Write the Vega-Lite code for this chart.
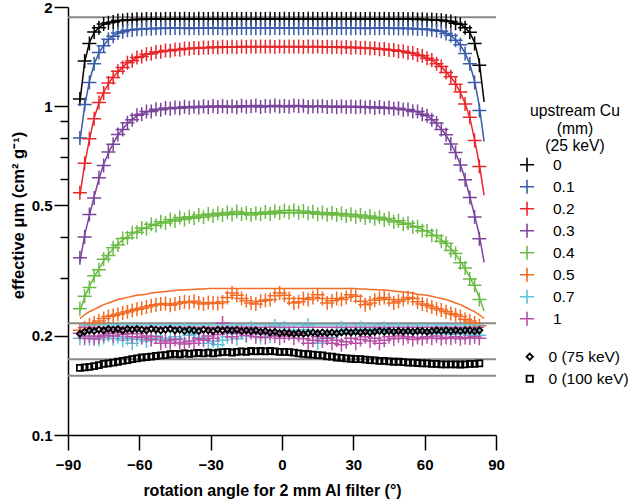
{
"$schema": "https://vega.github.io/schema/vega-lite/v6.json",
"width": 428, "height": 428,
"autosize": {"type": "none"},
"padding": {"left": 68, "top": 7, "right": 144, "bottom": 64},
"config": {
  "font": "Liberation Sans",
  "view": {"stroke": null},
  "axis": {"grid": false, "domainColor": "#000", "domainWidth": 1.5, "tickColor": "#000", "tickWidth": 1.5, "labelColor": "#000", "labelFontWeight": "bold", "labelFontSize": 15, "titleColor": "#000", "titleFontWeight": "bold", "titleFontSize": 16, "labelFlush": false, "labelOverlap": false},
  "legend": {"labelFont": "Liberation Sans", "titleFont": "Liberation Sans"}
},
"datasets": {
"ref": [{"m":1.862},{"m":0.2185},{"m":0.170},{"m":0.1515}],
"mu": [
{"a":-85,"s":"0","m":1.05,"f":1.03},{"a":-83,"s":"0","m":1.37,"f":1.36},{"a":-81,"s":"0","m":1.55,"f":1.56},{"a":-79,"s":"0","m":1.68,"f":1.67},{"a":-77,"s":"0","m":1.73,"f":1.735},{"a":-75,"s":"0","m":1.775,"f":1.77},{"a":-73,"s":"0","m":1.79,"f":1.79},{"a":-71,"s":"0","m":1.8,"f":1.805},{"a":-69,"s":"0","m":1.82,"f":1.815},{"a":-67,"s":"0","m":1.82,"f":1.822},{"a":-65,"s":"0","m":1.83,"f":1.827},{"a":-63,"s":"0","m":1.828,"f":1.83},{"a":-61,"s":"0","m":1.836,"f":1.833},{"a":-59,"s":"0","m":1.833,"f":1.835},{"a":-57,"s":"0","m":1.838,"f":1.836},{"a":-55,"s":"0","m":1.836,"f":1.837},{"a":-53,"s":"0","m":1.84,"f":1.837},{"a":-51,"s":"0","m":1.837,"f":1.838},
{"a":-49,"s":"0","m":1.842,"f":1.84},{"a":-47,"s":"0","m":1.838,"f":1.84},{"a":-45,"s":"0","m":1.841,"f":1.84},{"a":-43,"s":"0","m":1.839,"f":1.84},{"a":-41,"s":"0","m":1.843,"f":1.84},{"a":-39,"s":"0","m":1.84,"f":1.84},{"a":-37,"s":"0","m":1.837,"f":1.84},{"a":-35,"s":"0","m":1.842,"f":1.84},{"a":-33,"s":"0","m":1.84,"f":1.84},{"a":-31,"s":"0","m":1.838,"f":1.84},{"a":-29,"s":"0","m":1.841,"f":1.84},{"a":-27,"s":"0","m":1.843,"f":1.84},{"a":-25,"s":"0","m":1.839,"f":1.84},{"a":-23,"s":"0","m":1.84,"f":1.84},{"a":-21,"s":"0","m":1.842,"f":1.84},{"a":-19,"s":"0","m":1.838,"f":1.84},{"a":-17,"s":"0","m":1.84,"f":1.84},{"a":-15,"s":"0","m":1.841,"f":1.84},{"a":-13,"s":"0","m":1.839,"f":1.84},{"a":-11,"s":"0","m":1.843,"f":1.84},{"a":-9,"s":"0","m":1.84,"f":1.84},{"a":-7,"s":"0","m":1.838,"f":1.84},{"a":-5,"s":"0","m":1.842,"f":1.84},{"a":-3,"s":"0","m":1.84,"f":1.84},{"a":-1,"s":"0","m":1.839,"f":1.84},
{"a":1,"s":"0","m":1.841,"f":1.84},{"a":3,"s":"0","m":1.839,"f":1.84},{"a":5,"s":"0","m":1.842,"f":1.84},{"a":7,"s":"0","m":1.84,"f":1.84},{"a":9,"s":"0","m":1.838,"f":1.84},{"a":11,"s":"0","m":1.841,"f":1.84},{"a":13,"s":"0","m":1.843,"f":1.84},{"a":15,"s":"0","m":1.84,"f":1.84},{"a":17,"s":"0","m":1.839,"f":1.84},{"a":19,"s":"0","m":1.842,"f":1.84},{"a":21,"s":"0","m":1.84,"f":1.84},{"a":23,"s":"0","m":1.838,"f":1.84},{"a":25,"s":"0","m":1.841,"f":1.84},{"a":27,"s":"0","m":1.84,"f":1.84},{"a":29,"s":"0","m":1.842,"f":1.84},{"a":31,"s":"0","m":1.839,"f":1.84},{"a":33,"s":"0","m":1.84,"f":1.84},{"a":35,"s":"0","m":1.838,"f":1.84},{"a":37,"s":"0","m":1.841,"f":1.84},{"a":39,"s":"0","m":1.84,"f":1.84},{"a":41,"s":"0","m":1.839,"f":1.84},{"a":43,"s":"0","m":1.842,"f":1.84},{"a":45,"s":"0","m":1.84,"f":1.84},{"a":47,"s":"0","m":1.838,"f":1.84},{"a":49,"s":"0","m":1.84,"f":1.84},
{"a":51,"s":"0","m":1.84,"f":1.838},{"a":53,"s":"0","m":1.835,"f":1.837},{"a":55,"s":"0","m":1.838,"f":1.837},{"a":57,"s":"0","m":1.834,"f":1.836},{"a":59,"s":"0","m":1.836,"f":1.835},{"a":61,"s":"0","m":1.83,"f":1.833},{"a":63,"s":"0","m":1.832,"f":1.83},{"a":65,"s":"0","m":1.825,"f":1.827},{"a":67,"s":"0","m":1.824,"f":1.822},{"a":69,"s":"0","m":1.812,"f":1.815},{"a":71,"s":"0","m":1.807,"f":1.805},{"a":73,"s":"0","m":1.785,"f":1.79},{"a":75,"s":"0","m":1.772,"f":1.77},{"a":77,"s":"0","m":1.73,"f":1.735},{"a":79,"s":"0","m":1.675,"f":1.67},{"a":81,"s":"0","m":1.55,"f":1.56},{"a":83,"s":"0","m":1.33,"f":1.36},{"a":85,"s":"0","f":1.03},

{"a":-85,"s":"0.1","m":0.8,"f":0.78},{"a":-83,"s":"0.1","m":1.01,"f":1.0},{"a":-81,"s":"0.1","m":1.18,"f":1.19},{"a":-79,"s":"0.1","m":1.345,"f":1.34},{"a":-77,"s":"0.1","m":1.455,"f":1.45},{"a":-75,"s":"0.1","m":1.525,"f":1.53},{"a":-73,"s":"0.1","m":1.595,"f":1.59},{"a":-71,"s":"0.1","m":1.63,"f":1.635},{"a":-69,"s":"0.1","m":1.668,"f":1.665},{"a":-67,"s":"0.1","m":1.683,"f":1.685},{"a":-65,"s":"0.1","m":1.7,"f":1.698},{"a":-63,"s":"0.1","m":1.704,"f":1.706},{"a":-61,"s":"0.1","m":1.713,"f":1.711},{"a":-59,"s":"0.1","m":1.712,"f":1.715},{"a":-57,"s":"0.1","m":1.72,"f":1.718},{"a":-55,"s":"0.1","m":1.718,"f":1.72},{"a":-53,"s":"0.1","m":1.724,"f":1.722},{"a":-51,"s":"0.1","m":1.721,"f":1.723},{"a":-49,"s":"0.1","m":1.726,"f":1.724},
{"a":-47,"s":"0.1","m":1.723,"f":1.725},{"a":-45,"s":"0.1","m":1.727,"f":1.725},{"a":-43,"s":"0.1","m":1.724,"f":1.725},{"a":-41,"s":"0.1","m":1.726,"f":1.725},{"a":-39,"s":"0.1","m":1.722,"f":1.725},{"a":-37,"s":"0.1","m":1.728,"f":1.725},{"a":-35,"s":"0.1","m":1.725,"f":1.725},{"a":-33,"s":"0.1","m":1.723,"f":1.725},{"a":-31,"s":"0.1","m":1.727,"f":1.725},{"a":-29,"s":"0.1","m":1.724,"f":1.725},{"a":-27,"s":"0.1","m":1.726,"f":1.725},{"a":-25,"s":"0.1","m":1.725,"f":1.725},{"a":-23,"s":"0.1","m":1.722,"f":1.725},{"a":-21,"s":"0.1","m":1.727,"f":1.725},{"a":-19,"s":"0.1","m":1.724,"f":1.725},{"a":-17,"s":"0.1","m":1.726,"f":1.725},{"a":-15,"s":"0.1","m":1.723,"f":1.725},{"a":-13,"s":"0.1","m":1.728,"f":1.725},{"a":-11,"s":"0.1","m":1.725,"f":1.725},{"a":-9,"s":"0.1","m":1.724,"f":1.725},{"a":-7,"s":"0.1","m":1.726,"f":1.725},{"a":-5,"s":"0.1","m":1.723,"f":1.725},{"a":-3,"s":"0.1","m":1.727,"f":1.725},{"a":-1,"s":"0.1","m":1.725,"f":1.725},
{"a":1,"s":"0.1","m":1.726,"f":1.725},{"a":3,"s":"0.1","m":1.724,"f":1.725},{"a":5,"s":"0.1","m":1.727,"f":1.725},{"a":7,"s":"0.1","m":1.723,"f":1.725},{"a":9,"s":"0.1","m":1.725,"f":1.725},{"a":11,"s":"0.1","m":1.728,"f":1.725},{"a":13,"s":"0.1","m":1.724,"f":1.725},{"a":15,"s":"0.1","m":1.726,"f":1.725},{"a":17,"s":"0.1","m":1.722,"f":1.725},{"a":19,"s":"0.1","m":1.725,"f":1.725},{"a":21,"s":"0.1","m":1.727,"f":1.725},{"a":23,"s":"0.1","m":1.724,"f":1.725},{"a":25,"s":"0.1","m":1.726,"f":1.725},{"a":27,"s":"0.1","m":1.723,"f":1.725},{"a":29,"s":"0.1","m":1.725,"f":1.725},{"a":31,"s":"0.1","m":1.727,"f":1.725},{"a":33,"s":"0.1","m":1.724,"f":1.725},{"a":35,"s":"0.1","m":1.722,"f":1.725},{"a":37,"s":"0.1","m":1.726,"f":1.725},{"a":39,"s":"0.1","m":1.725,"f":1.725},{"a":41,"s":"0.1","m":1.723,"f":1.725},{"a":43,"s":"0.1","m":1.727,"f":1.725},{"a":45,"s":"0.1","m":1.724,"f":1.725},{"a":47,"s":"0.1","m":1.725,"f":1.725},
{"a":49,"s":"0.1","m":1.722,"f":1.724},{"a":51,"s":"0.1","m":1.724,"f":1.723},{"a":53,"s":"0.1","m":1.72,"f":1.722},{"a":55,"s":"0.1","m":1.721,"f":1.72},{"a":57,"s":"0.1","m":1.716,"f":1.718},{"a":59,"s":"0.1","m":1.717,"f":1.715},{"a":61,"s":"0.1","m":1.709,"f":1.711},{"a":63,"s":"0.1","m":1.707,"f":1.706},{"a":65,"s":"0.1","m":1.695,"f":1.698},{"a":67,"s":"0.1","m":1.687,"f":1.685},{"a":69,"s":"0.1","m":1.66,"f":1.665},{"a":71,"s":"0.1","m":1.638,"f":1.635},{"a":73,"s":"0.1","m":1.585,"f":1.59},{"a":75,"s":"0.1","m":1.535,"f":1.53},{"a":77,"s":"0.1","m":1.445,"f":1.45},{"a":79,"s":"0.1","m":1.345,"f":1.34},{"a":81,"s":"0.1","m":1.18,"f":1.19},{"a":83,"s":"0.1","m":0.97,"f":1.0},{"a":85,"s":"0.1","f":0.78},

{"a":-85,"s":"0.2","m":0.545,"f":0.535},{"a":-83,"s":"0.2","m":0.67,"f":0.665},{"a":-81,"s":"0.2","m":0.795,"f":0.79},{"a":-79,"s":"0.2","m":0.915,"f":0.92},{"a":-77,"s":"0.2","m":1.025,"f":1.02},{"a":-75,"s":"0.2","m":1.095,"f":1.1},{"a":-73,"s":"0.2","m":1.175,"f":1.17},{"a":-71,"s":"0.2","m":1.22,"f":1.225},{"a":-69,"s":"0.2","m":1.275,"f":1.27},{"a":-67,"s":"0.2","m":1.31,"f":1.315},{"a":-65,"s":"0.2","m":1.355,"f":1.35},{"a":-63,"s":"0.2","m":1.374,"f":1.378},{"a":-61,"s":"0.2","m":1.405,"f":1.4},{"a":-59,"s":"0.2","m":1.414,"f":1.418},{"a":-57,"s":"0.2","m":1.437,"f":1.433},{"a":-55,"s":"0.2","m":1.442,"f":1.446},{"a":-53,"s":"0.2","m":1.46,"f":1.456},{"a":-51,"s":"0.2","m":1.461,"f":1.464},{"a":-49,"s":"0.2","m":1.475,"f":1.471},{"a":-47,"s":"0.2","m":1.473,"f":1.477},{"a":-45,"s":"0.2","m":1.486,"f":1.482},{"a":-43,"s":"0.2","m":1.484,"f":1.487},{"a":-41,"s":"0.2","m":1.495,"f":1.491},{"a":-39,"s":"0.2","m":1.492,"f":1.495},{"a":-37,"s":"0.2","m":1.502,"f":1.498},{"a":-35,"s":"0.2","m":1.498,"f":1.501},{"a":-33,"s":"0.2","m":1.507,"f":1.504},{"a":-31,"s":"0.2","m":1.503,"f":1.506},{"a":-29,"s":"0.2","m":1.511,"f":1.508},{"a":-27,"s":"0.2","m":1.506,"f":1.509},{"a":-25,"s":"0.2","m":1.513,"f":1.51},{"a":-23,"s":"0.2","m":1.508,"f":1.511},{"a":-21,"s":"0.2","m":1.515,"f":1.512},{"a":-19,"s":"0.2","m":1.51,"f":1.513},{"a":-17,"s":"0.2","m":1.516,"f":1.513},{"a":-15,"s":"0.2","m":1.512,"f":1.514},{"a":-13,"s":"0.2","m":1.517,"f":1.515},{"a":-11,"s":"0.2","m":1.513,"f":1.515},{"a":-9,"s":"0.2","m":1.518,"f":1.515},{"a":-7,"s":"0.2","m":1.514,"f":1.515},{"a":-5,"s":"0.2","m":1.517,"f":1.515},{"a":-3,"s":"0.2","m":1.512,"f":1.515},{"a":-1,"s":"0.2","m":1.516,"f":1.515},
{"a":1,"s":"0.2","m":1.513,"f":1.515},{"a":3,"s":"0.2","m":1.517,"f":1.515},{"a":5,"s":"0.2","m":1.514,"f":1.515},{"a":7,"s":"0.2","m":1.518,"f":1.515},{"a":9,"s":"0.2","m":1.512,"f":1.515},{"a":11,"s":"0.2","m":1.516,"f":1.515},{"a":13,"s":"0.2","m":1.513,"f":1.515},{"a":15,"s":"0.2","m":1.517,"f":1.514},{"a":17,"s":"0.2","m":1.511,"f":1.513},{"a":19,"s":"0.2","m":1.515,"f":1.513},{"a":21,"s":"0.2","m":1.509,"f":1.512},{"a":23,"s":"0.2","m":1.514,"f":1.511},{"a":25,"s":"0.2","m":1.507,"f":1.51},{"a":27,"s":"0.2","m":1.512,"f":1.509},{"a":29,"s":"0.2","m":1.505,"f":1.508},{"a":31,"s":"0.2","m":1.509,"f":1.506},{"a":33,"s":"0.2","m":1.501,"f":1.504},{"a":35,"s":"0.2","m":1.504,"f":1.501},{"a":37,"s":"0.2","m":1.495,"f":1.498},{"a":39,"s":"0.2","m":1.498,"f":1.495},{"a":41,"s":"0.2","m":1.488,"f":1.491},{"a":43,"s":"0.2","m":1.49,"f":1.487},{"a":45,"s":"0.2","m":1.479,"f":1.482},{"a":47,"s":"0.2","m":1.48,"f":1.477},{"a":49,"s":"0.2","m":1.468,"f":1.471},{"a":51,"s":"0.2","m":1.467,"f":1.464},{"a":53,"s":"0.2","m":1.452,"f":1.456},{"a":55,"s":"0.2","m":1.449,"f":1.446},{"a":57,"s":"0.2","m":1.429,"f":1.433},{"a":59,"s":"0.2","m":1.421,"f":1.418},{"a":61,"s":"0.2","m":1.396,"f":1.4},{"a":63,"s":"0.2","m":1.381,"f":1.378},{"a":65,"s":"0.2","m":1.345,"f":1.35},{"a":67,"s":"0.2","m":1.318,"f":1.315},{"a":69,"s":"0.2","m":1.265,"f":1.27},{"a":71,"s":"0.2","m":1.228,"f":1.225},{"a":73,"s":"0.2","m":1.165,"f":1.17},{"a":75,"s":"0.2","m":1.104,"f":1.1},{"a":77,"s":"0.2","m":1.015,"f":1.02},{"a":79,"s":"0.2","m":0.925,"f":0.92},{"a":81,"s":"0.2","m":0.785,"f":0.79},{"a":83,"s":"0.2","m":0.655,"f":0.665},{"a":85,"s":"0.2","f":0.535},

{"a":-85,"s":"0.3","m":0.346,"f":0.335},{"a":-83,"s":"0.3","m":0.4,"f":0.405},{"a":-81,"s":"0.3","m":0.468,"f":0.465},{"a":-79,"s":"0.3","m":0.525,"f":0.53},{"a":-77,"s":"0.3","m":0.605,"f":0.6},{"a":-75,"s":"0.3","m":0.66,"f":0.665},{"a":-73,"s":"0.3","m":0.725,"f":0.72},{"a":-71,"s":"0.3","m":0.765,"f":0.77},{"a":-69,"s":"0.3","m":0.82,"f":0.815},{"a":-67,"s":"0.3","m":0.848,"f":0.852},{"a":-65,"s":"0.3","m":0.89,"f":0.885},{"a":-63,"s":"0.3","m":0.908,"f":0.912},{"a":-61,"s":"0.3","m":0.937,"f":0.932},{"a":-59,"s":"0.3","m":0.944,"f":0.948},{"a":-57,"s":"0.3","m":0.963,"f":0.959},{"a":-55,"s":"0.3","m":0.962,"f":0.967},{"a":-53,"s":"0.3","m":0.978,"f":0.973},{"a":-51,"s":"0.3","m":0.974,"f":0.978},{"a":-49,"s":"0.3","m":0.986,"f":0.982},{"a":-47,"s":"0.3","m":0.981,"f":0.985},{"a":-45,"s":"0.3","m":0.99,"f":0.987},{"a":-43,"s":"0.3","m":0.985,"f":0.989},{"a":-41,"s":"0.3","m":0.995,"f":0.991},{"a":-39,"s":"0.3","m":0.988,"f":0.992},{"a":-37,"s":"0.3","m":0.997,"f":0.993},{"a":-35,"s":"0.3","m":0.99,"f":0.994},{"a":-33,"s":"0.3","m":0.999,"f":0.995},{"a":-31,"s":"0.3","m":0.992,"f":0.996},{"a":-29,"s":"0.3","m":1.0,"f":0.996},{"a":-27,"s":"0.3","m":0.993,"f":0.996},{"a":-25,"s":"0.3","m":1.001,"f":0.996},{"a":-23,"s":"0.3","m":0.994,"f":0.996},{"a":-21,"s":"0.3","m":0.999,"f":0.996},{"a":-19,"s":"0.3","m":0.992,"f":0.996},{"a":-17,"s":"0.3","m":1.002,"f":0.996},{"a":-15,"s":"0.3","m":0.995,"f":0.996},{"a":-13,"s":"0.3","m":0.998,"f":0.996},{"a":-11,"s":"0.3","m":1.003,"f":0.996},{"a":-9,"s":"0.3","m":0.993,"f":0.996},{"a":-7,"s":"0.3","m":1.0,"f":0.996},{"a":-5,"s":"0.3","m":0.996,"f":0.996},{"a":-3,"s":"0.3","m":1.004,"f":0.996},{"a":-1,"s":"0.3","m":0.997,"f":0.996},
{"a":1,"s":"0.3","m":1.001,"f":0.996},{"a":3,"s":"0.3","m":0.995,"f":0.996},{"a":5,"s":"0.3","m":1.003,"f":0.996},{"a":7,"s":"0.3","m":0.998,"f":0.996},{"a":9,"s":"0.3","m":1.002,"f":0.996},{"a":11,"s":"0.3","m":0.993,"f":0.996},{"a":13,"s":"0.3","m":0.999,"f":0.996},{"a":15,"s":"0.3","m":0.996,"f":0.996},{"a":17,"s":"0.3","m":1.001,"f":0.996},{"a":19,"s":"0.3","m":0.994,"f":0.996},{"a":21,"s":"0.3","m":0.998,"f":0.996},{"a":23,"s":"0.3","m":0.992,"f":0.996},{"a":25,"s":"0.3","m":0.999,"f":0.996},{"a":27,"s":"0.3","m":0.993,"f":0.996},{"a":29,"s":"0.3","m":0.997,"f":0.996},{"a":31,"s":"0.3","m":0.991,"f":0.996},{"a":33,"s":"0.3","m":0.996,"f":0.995},{"a":35,"s":"0.3","m":0.99,"f":0.994},{"a":37,"s":"0.3","m":0.995,"f":0.993},{"a":39,"s":"0.3","m":0.987,"f":0.992},{"a":41,"s":"0.3","m":0.993,"f":0.991},{"a":43,"s":"0.3","m":0.985,"f":0.989},{"a":45,"s":"0.3","m":0.99,"f":0.987},{"a":47,"s":"0.3","m":0.981,"f":0.985},{"a":49,"s":"0.3","m":0.985,"f":0.982},{"a":51,"s":"0.3","m":0.975,"f":0.978},{"a":53,"s":"0.3","m":0.976,"f":0.973},{"a":55,"s":"0.3","m":0.963,"f":0.967},{"a":57,"s":"0.3","m":0.962,"f":0.959},{"a":59,"s":"0.3","m":0.944,"f":0.948},{"a":61,"s":"0.3","m":0.935,"f":0.932},{"a":63,"s":"0.3","m":0.908,"f":0.912},{"a":65,"s":"0.3","m":0.888,"f":0.885},{"a":67,"s":"0.3","m":0.848,"f":0.852},{"a":69,"s":"0.3","m":0.818,"f":0.815},{"a":71,"s":"0.3","m":0.766,"f":0.77},{"a":73,"s":"0.3","m":0.722,"f":0.72},{"a":75,"s":"0.3","m":0.662,"f":0.665},{"a":77,"s":"0.3","m":0.597,"f":0.6},{"a":79,"s":"0.3","m":0.527,"f":0.53},{"a":81,"s":"0.3","m":0.46,"f":0.465},{"a":83,"s":"0.3","m":0.395,"f":0.405},{"a":85,"s":"0.3","f":0.335},

{"a":-85,"s":"0.4","m":0.242,"f":0.238},{"a":-83,"s":"0.4","m":0.264,"f":0.262},{"a":-81,"s":"0.4","m":0.281,"f":0.283},{"a":-79,"s":"0.4","m":0.305,"f":0.302},{"a":-77,"s":"0.4","m":0.318,"f":0.32},{"a":-75,"s":"0.4","m":0.342,"f":0.338},{"a":-73,"s":"0.4","m":0.351,"f":0.354},{"a":-71,"s":"0.4","m":0.371,"f":0.368},{"a":-69,"s":"0.4","m":0.378,"f":0.381},{"a":-67,"s":"0.4","m":0.396,"f":0.392},{"a":-65,"s":"0.4","m":0.398,"f":0.401},{"a":-63,"s":"0.4","m":0.412,"f":0.409},{"a":-61,"s":"0.4","m":0.413,"f":0.416},{"a":-59,"s":"0.4","m":0.426,"f":0.422},{"a":-57,"s":"0.4","m":0.424,"f":0.428},{"a":-55,"s":"0.4","m":0.437,"f":0.433},{"a":-53,"s":"0.4","m":0.433,"f":0.437},{"a":-51,"s":"0.4","m":0.445,"f":0.441},{"a":-49,"s":"0.4","m":0.441,"f":0.445},{"a":-47,"s":"0.4","m":0.452,"f":0.448},{"a":-45,"s":"0.4","m":0.447,"f":0.451},{"a":-43,"s":"0.4","m":0.458,"f":0.454},{"a":-41,"s":"0.4","m":0.452,"f":0.456},{"a":-39,"s":"0.4","m":0.461,"f":0.458},{"a":-37,"s":"0.4","m":0.456,"f":0.46},{"a":-35,"s":"0.4","m":0.466,"f":0.462},{"a":-33,"s":"0.4","m":0.459,"f":0.464},{"a":-31,"s":"0.4","m":0.47,"f":0.466},{"a":-29,"s":"0.4","m":0.463,"f":0.467},{"a":-27,"s":"0.4","m":0.472,"f":0.468},{"a":-25,"s":"0.4","m":0.466,"f":0.469},{"a":-23,"s":"0.4","m":0.475,"f":0.47},{"a":-21,"s":"0.4","m":0.468,"f":0.471},{"a":-19,"s":"0.4","m":0.478,"f":0.472},{"a":-17,"s":"0.4","m":0.469,"f":0.473},{"a":-15,"s":"0.4","m":0.473,"f":0.474},{"a":-13,"s":"0.4","m":0.466,"f":0.474},{"a":-11,"s":"0.4","m":0.472,"f":0.474},{"a":-9,"s":"0.4","m":0.469,"f":0.474},{"a":-7,"s":"0.4","m":0.476,"f":0.474},{"a":-5,"s":"0.4","m":0.47,"f":0.474},{"a":-3,"s":"0.4","m":0.479,"f":0.474},{"a":-1,"s":"0.4","m":0.473,"f":0.474},
{"a":1,"s":"0.4","m":0.481,"f":0.474},{"a":3,"s":"0.4","m":0.475,"f":0.474},{"a":5,"s":"0.4","m":0.482,"f":0.474},{"a":7,"s":"0.4","m":0.474,"f":0.474},{"a":9,"s":"0.4","m":0.48,"f":0.474},{"a":11,"s":"0.4","m":0.472,"f":0.474},{"a":13,"s":"0.4","m":0.477,"f":0.474},{"a":15,"s":"0.4","m":0.469,"f":0.474},{"a":17,"s":"0.4","m":0.475,"f":0.473},{"a":19,"s":"0.4","m":0.467,"f":0.472},{"a":21,"s":"0.4","m":0.474,"f":0.471},{"a":23,"s":"0.4","m":0.466,"f":0.47},{"a":25,"s":"0.4","m":0.471,"f":0.469},{"a":27,"s":"0.4","m":0.463,"f":0.468},{"a":29,"s":"0.4","m":0.469,"f":0.467},{"a":31,"s":"0.4","m":0.461,"f":0.466},{"a":33,"s":"0.4","m":0.466,"f":0.464},{"a":35,"s":"0.4","m":0.457,"f":0.462},{"a":37,"s":"0.4","m":0.463,"f":0.46},{"a":39,"s":"0.4","m":0.454,"f":0.458},{"a":41,"s":"0.4","m":0.459,"f":0.456},{"a":43,"s":"0.4","m":0.45,"f":0.454},{"a":45,"s":"0.4","m":0.455,"f":0.451},{"a":47,"s":"0.4","m":0.444,"f":0.448},{"a":49,"s":"0.4","m":0.448,"f":0.445},{"a":51,"s":"0.4","m":0.437,"f":0.441},{"a":53,"s":"0.4","m":0.44,"f":0.437},{"a":55,"s":"0.4","m":0.429,"f":0.433},{"a":57,"s":"0.4","m":0.43,"f":0.428},{"a":59,"s":"0.4","m":0.418,"f":0.422},{"a":61,"s":"0.4","m":0.418,"f":0.416},{"a":63,"s":"0.4","m":0.405,"f":0.409},{"a":65,"s":"0.4","m":0.403,"f":0.401},{"a":67,"s":"0.4","m":0.388,"f":0.392},{"a":69,"s":"0.4","m":0.383,"f":0.381},{"a":71,"s":"0.4","m":0.364,"f":0.368},{"a":73,"s":"0.4","m":0.356,"f":0.354},{"a":75,"s":"0.4","m":0.334,"f":0.338},{"a":77,"s":"0.4","m":0.322,"f":0.32},{"a":79,"s":"0.4","m":0.298,"f":0.302},{"a":81,"s":"0.4","m":0.285,"f":0.283},{"a":83,"s":"0.4","m":0.258,"f":0.262},{"a":85,"s":"0.4","f":0.238},

{"a":-85,"s":"0.5","m":0.208,"f":0.226},{"a":-83,"s":"0.5","m":0.212,"f":0.232},{"a":-81,"s":"0.5","m":0.216,"f":0.237},{"a":-79,"s":"0.5","m":0.219,"f":0.241},{"a":-77,"s":"0.5","m":0.222,"f":0.245},{"a":-75,"s":"0.5","m":0.226,"f":0.249},{"a":-73,"s":"0.5","m":0.229,"f":0.252},{"a":-71,"s":"0.5","m":0.231,"f":0.255},{"a":-69,"s":"0.5","m":0.233,"f":0.258},{"a":-67,"s":"0.5","m":0.235,"f":0.26},{"a":-65,"s":"0.5","m":0.237,"f":0.262},{"a":-63,"s":"0.5","m":0.239,"f":0.264},{"a":-61,"s":"0.5","m":0.241,"f":0.266},{"a":-59,"s":"0.5","m":0.243,"f":0.267},{"a":-57,"s":"0.5","m":0.245,"f":0.268},{"a":-55,"s":"0.5","m":0.247,"f":0.27},{"a":-53,"s":"0.5","m":0.249,"f":0.271},{"a":-51,"s":"0.5","m":0.25,"f":0.272},{"a":-49,"s":"0.5","m":0.251,"f":0.273},{"a":-47,"s":"0.5","m":0.248,"f":0.274},{"a":-45,"s":"0.5","m":0.25,"f":0.275},{"a":-43,"s":"0.5","m":0.252,"f":0.276},{"a":-41,"s":"0.5","m":0.254,"f":0.276},{"a":-39,"s":"0.5","m":0.253,"f":0.277},{"a":-37,"s":"0.5","m":0.255,"f":0.277},{"a":-35,"s":"0.5","m":0.252,"f":0.278},{"a":-33,"s":"0.5","m":0.25,"f":0.278},{"a":-31,"s":"0.5","m":0.253,"f":0.279},{"a":-29,"s":"0.5","m":0.252,"f":0.279},{"a":-27,"s":"0.5","m":0.251,"f":0.279},{"a":-25,"s":"0.5","m":0.254,"f":0.279},{"a":-23,"s":"0.5","m":0.262,"f":0.279},{"a":-21,"s":"0.5","m":0.27,"f":0.279},{"a":-19,"s":"0.5","m":0.266,"f":0.279},{"a":-17,"s":"0.5","m":0.26,"f":0.279},{"a":-15,"s":"0.5","m":0.256,"f":0.279},{"a":-13,"s":"0.5","m":0.252,"f":0.279},{"a":-11,"s":"0.5","m":0.25,"f":0.279},{"a":-9,"s":"0.5","m":0.255,"f":0.279},{"a":-7,"s":"0.5","m":0.257,"f":0.279},{"a":-5,"s":"0.5","m":0.258,"f":0.279},{"a":-3,"s":"0.5","m":0.265,"f":0.279},{"a":-1,"s":"0.5","m":0.27,"f":0.279},
{"a":1,"s":"0.5","m":0.266,"f":0.279},{"a":3,"s":"0.5","m":0.26,"f":0.279},{"a":5,"s":"0.5","m":0.252,"f":0.279},{"a":7,"s":"0.5","m":0.254,"f":0.279},{"a":9,"s":"0.5","m":0.26,"f":0.279},{"a":11,"s":"0.5","m":0.258,"f":0.279},{"a":13,"s":"0.5","m":0.262,"f":0.279},{"a":15,"s":"0.5","m":0.267,"f":0.279},{"a":17,"s":"0.5","m":0.26,"f":0.279},{"a":19,"s":"0.5","m":0.252,"f":0.279},{"a":21,"s":"0.5","m":0.256,"f":0.279},{"a":23,"s":"0.5","m":0.26,"f":0.279},{"a":25,"s":"0.5","m":0.258,"f":0.279},{"a":27,"s":"0.5","m":0.262,"f":0.279},{"a":29,"s":"0.5","m":0.267,"f":0.279},{"a":31,"s":"0.5","m":0.264,"f":0.279},{"a":33,"s":"0.5","m":0.255,"f":0.278},{"a":35,"s":"0.5","m":0.249,"f":0.278},{"a":37,"s":"0.5","m":0.252,"f":0.277},{"a":39,"s":"0.5","m":0.257,"f":0.277},{"a":41,"s":"0.5","m":0.26,"f":0.276},{"a":43,"s":"0.5","m":0.262,"f":0.276},{"a":45,"s":"0.5","m":0.258,"f":0.275},{"a":47,"s":"0.5","m":0.252,"f":0.274},{"a":49,"s":"0.5","m":0.255,"f":0.273},{"a":51,"s":"0.5","m":0.258,"f":0.272},{"a":53,"s":"0.5","m":0.262,"f":0.271},{"a":55,"s":"0.5","m":0.26,"f":0.27},{"a":57,"s":"0.5","m":0.254,"f":0.268},{"a":59,"s":"0.5","m":0.25,"f":0.267},{"a":61,"s":"0.5","m":0.248,"f":0.266},{"a":63,"s":"0.5","m":0.245,"f":0.264},{"a":65,"s":"0.5","m":0.242,"f":0.262},{"a":67,"s":"0.5","m":0.24,"f":0.26},{"a":69,"s":"0.5","m":0.237,"f":0.258},{"a":71,"s":"0.5","m":0.234,"f":0.255},{"a":73,"s":"0.5","m":0.232,"f":0.252},{"a":75,"s":"0.5","m":0.229,"f":0.249},{"a":77,"s":"0.5","m":0.225,"f":0.245},{"a":79,"s":"0.5","m":0.222,"f":0.241},{"a":81,"s":"0.5","m":0.219,"f":0.237},{"a":83,"s":"0.5","m":0.215,"f":0.232},{"a":85,"s":"0.5","f":0.226},

{"a":-85,"s":"0.7","m":0.197,"f":0.216},{"a":-83,"s":"0.7","m":0.2,"f":0.216},{"a":-81,"s":"0.7","m":0.196,"f":0.216},{"a":-79,"s":"0.7","m":0.199,"f":0.216},{"a":-77,"s":"0.7","m":0.195,"f":0.216},{"a":-75,"s":"0.7","m":0.198,"f":0.216},{"a":-73,"s":"0.7","m":0.201,"f":0.216},{"a":-71,"s":"0.7","m":0.196,"f":0.216},{"a":-69,"s":"0.7","m":0.199,"f":0.216},{"a":-67,"s":"0.7","m":0.194,"f":0.216},{"a":-65,"s":"0.7","m":0.197,"f":0.216},{"a":-63,"s":"0.7","m":0.19,"f":0.216},{"a":-61,"s":"0.7","m":0.195,"f":0.216},{"a":-59,"s":"0.7","m":0.198,"f":0.216},{"a":-57,"s":"0.7","m":0.193,"f":0.216},{"a":-55,"s":"0.7","m":0.196,"f":0.216},{"a":-53,"s":"0.7","m":0.2,"f":0.216},{"a":-51,"s":"0.7","m":0.195,"f":0.216},{"a":-49,"s":"0.7","m":0.197,"f":0.216},{"a":-47,"s":"0.7","m":0.194,"f":0.216},{"a":-45,"s":"0.7","m":0.199,"f":0.216},{"a":-43,"s":"0.7","m":0.196,"f":0.216},{"a":-41,"s":"0.7","m":0.209,"f":0.216},{"a":-39,"s":"0.7","m":0.201,"f":0.216},{"a":-37,"s":"0.7","m":0.203,"f":0.216},{"a":-35,"s":"0.7","m":0.198,"f":0.216},{"a":-33,"s":"0.7","m":0.195,"f":0.216},{"a":-31,"s":"0.7","m":0.19,"f":0.216},{"a":-29,"s":"0.7","m":0.193,"f":0.216},{"a":-27,"s":"0.7","m":0.188,"f":0.216},{"a":-25,"s":"0.7","m":0.194,"f":0.216},{"a":-23,"s":"0.7","m":0.199,"f":0.216},{"a":-21,"s":"0.7","m":0.203,"f":0.216},{"a":-19,"s":"0.7","m":0.196,"f":0.216},{"a":-17,"s":"0.7","m":0.205,"f":0.216},{"a":-15,"s":"0.7","m":0.2,"f":0.216},{"a":-13,"s":"0.7","m":0.212,"f":0.216},{"a":-11,"s":"0.7","m":0.203,"f":0.216},{"a":-9,"s":"0.7","m":0.198,"f":0.216},{"a":-7,"s":"0.7","m":0.206,"f":0.216},{"a":-5,"s":"0.7","m":0.2,"f":0.216},{"a":-3,"s":"0.7","m":0.215,"f":0.216},{"a":-1,"s":"0.7","m":0.207,"f":0.216},
{"a":1,"s":"0.7","m":0.212,"f":0.216},{"a":3,"s":"0.7","m":0.203,"f":0.216},{"a":5,"s":"0.7","m":0.208,"f":0.216},{"a":7,"s":"0.7","m":0.202,"f":0.216},{"a":9,"s":"0.7","m":0.209,"f":0.216},{"a":11,"s":"0.7","m":0.216,"f":0.216},{"a":13,"s":"0.7","m":0.204,"f":0.216},{"a":15,"s":"0.7","m":0.19,"f":0.216},{"a":17,"s":"0.7","m":0.196,"f":0.216},{"a":19,"s":"0.7","m":0.203,"f":0.216},{"a":21,"s":"0.7","m":0.198,"f":0.216},{"a":23,"s":"0.7","m":0.206,"f":0.216},{"a":25,"s":"0.7","m":0.212,"f":0.216},{"a":27,"s":"0.7","m":0.208,"f":0.216},{"a":29,"s":"0.7","m":0.203,"f":0.216},{"a":31,"s":"0.7","m":0.207,"f":0.216},{"a":33,"s":"0.7","m":0.212,"f":0.216},{"a":35,"s":"0.7","m":0.209,"f":0.216},{"a":37,"s":"0.7","m":0.204,"f":0.216},{"a":39,"s":"0.7","m":0.21,"f":0.216},{"a":41,"s":"0.7","m":0.206,"f":0.216},{"a":43,"s":"0.7","m":0.211,"f":0.216},{"a":45,"s":"0.7","m":0.207,"f":0.216},{"a":47,"s":"0.7","m":0.205,"f":0.216},{"a":49,"s":"0.7","m":0.209,"f":0.216},{"a":51,"s":"0.7","m":0.204,"f":0.216},{"a":53,"s":"0.7","m":0.207,"f":0.216},{"a":55,"s":"0.7","m":0.205,"f":0.216},{"a":57,"s":"0.7","m":0.208,"f":0.216},{"a":59,"s":"0.7","m":0.204,"f":0.216},{"a":61,"s":"0.7","m":0.206,"f":0.216},{"a":63,"s":"0.7","m":0.203,"f":0.216},{"a":65,"s":"0.7","m":0.207,"f":0.216},{"a":67,"s":"0.7","m":0.204,"f":0.216},{"a":69,"s":"0.7","m":0.205,"f":0.216},{"a":71,"s":"0.7","m":0.202,"f":0.216},{"a":73,"s":"0.7","m":0.205,"f":0.216},{"a":75,"s":"0.7","m":0.203,"f":0.216},{"a":77,"s":"0.7","m":0.204,"f":0.216},{"a":79,"s":"0.7","m":0.201,"f":0.216},{"a":81,"s":"0.7","m":0.203,"f":0.216},{"a":83,"s":"0.7","m":0.201,"f":0.216},{"a":85,"s":"0.7","f":0.216},

{"a":-85,"s":"1","m":0.204,"f":0.2125},{"a":-83,"s":"1","m":0.197,"f":0.2125},{"a":-81,"s":"1","m":0.2,"f":0.2125},{"a":-79,"s":"1","m":0.196,"f":0.2125},{"a":-77,"s":"1","m":0.199,"f":0.2125},{"a":-75,"s":"1","m":0.201,"f":0.2125},{"a":-73,"s":"1","m":0.204,"f":0.2125},{"a":-71,"s":"1","m":0.2,"f":0.2125},{"a":-69,"s":"1","m":0.205,"f":0.2125},{"a":-67,"s":"1","m":0.202,"f":0.2125},{"a":-65,"s":"1","m":0.204,"f":0.2125},{"a":-63,"s":"1","m":0.199,"f":0.2125},{"a":-61,"s":"1","m":0.203,"f":0.2125},{"a":-59,"s":"1","m":0.198,"f":0.2125},{"a":-57,"s":"1","m":0.2,"f":0.2125},{"a":-55,"s":"1","m":0.195,"f":0.2125},{"a":-53,"s":"1","m":0.199,"f":0.2125},{"a":-51,"s":"1","m":0.19,"f":0.2125},{"a":-49,"s":"1","m":0.193,"f":0.2125},{"a":-47,"s":"1","m":0.19,"f":0.2125},{"a":-45,"s":"1","m":0.195,"f":0.2125},{"a":-43,"s":"1","m":0.191,"f":0.2125},{"a":-41,"s":"1","m":0.189,"f":0.2125},{"a":-39,"s":"1","m":0.193,"f":0.2125},{"a":-37,"s":"1","m":0.19,"f":0.2125},{"a":-35,"s":"1","m":0.196,"f":0.2125},{"a":-33,"s":"1","m":0.194,"f":0.2125},{"a":-31,"s":"1","m":0.2,"f":0.2125},{"a":-29,"s":"1","m":0.197,"f":0.2125},{"a":-27,"s":"1","m":0.202,"f":0.2125},{"a":-25,"s":"1","m":0.219,"f":0.2125},{"a":-23,"s":"1","m":0.205,"f":0.2125},{"a":-21,"s":"1","m":0.199,"f":0.2125},{"a":-19,"s":"1","m":0.204,"f":0.2125},{"a":-17,"s":"1","m":0.207,"f":0.2125},{"a":-15,"s":"1","m":0.201,"f":0.2125},{"a":-13,"s":"1","m":0.205,"f":0.2125},{"a":-11,"s":"1","m":0.199,"f":0.2125},{"a":-9,"s":"1","m":0.203,"f":0.2125},{"a":-7,"s":"1","m":0.198,"f":0.2125},{"a":-5,"s":"1","m":0.204,"f":0.2125},{"a":-3,"s":"1","m":0.2,"f":0.2125},{"a":-1,"s":"1","m":0.197,"f":0.2125},
{"a":1,"s":"1","m":0.2,"f":0.2125},{"a":3,"s":"1","m":0.204,"f":0.2125},{"a":5,"s":"1","m":0.197,"f":0.2125},{"a":7,"s":"1","m":0.201,"f":0.2125},{"a":9,"s":"1","m":0.196,"f":0.2125},{"a":11,"s":"1","m":0.19,"f":0.2125},{"a":13,"s":"1","m":0.194,"f":0.2125},{"a":15,"s":"1","m":0.199,"f":0.2125},{"a":17,"s":"1","m":0.193,"f":0.2125},{"a":19,"s":"1","m":0.197,"f":0.2125},{"a":21,"s":"1","m":0.19,"f":0.2125},{"a":23,"s":"1","m":0.194,"f":0.2125},{"a":25,"s":"1","m":0.188,"f":0.2125},{"a":27,"s":"1","m":0.192,"f":0.2125},{"a":29,"s":"1","m":0.197,"f":0.2125},{"a":31,"s":"1","m":0.19,"f":0.2125},{"a":33,"s":"1","m":0.195,"f":0.2125},{"a":35,"s":"1","m":0.199,"f":0.2125},{"a":37,"s":"1","m":0.193,"f":0.2125},{"a":39,"s":"1","m":0.197,"f":0.2125},{"a":41,"s":"1","m":0.19,"f":0.2125},{"a":43,"s":"1","m":0.194,"f":0.2125},{"a":45,"s":"1","m":0.199,"f":0.2125},{"a":47,"s":"1","m":0.196,"f":0.2125},{"a":49,"s":"1","m":0.2,"f":0.2125},{"a":51,"s":"1","m":0.197,"f":0.2125},{"a":53,"s":"1","m":0.199,"f":0.2125},{"a":55,"s":"1","m":0.195,"f":0.2125},{"a":57,"s":"1","m":0.198,"f":0.2125},{"a":59,"s":"1","m":0.196,"f":0.2125},{"a":61,"s":"1","m":0.199,"f":0.2125},{"a":63,"s":"1","m":0.197,"f":0.2125},{"a":65,"s":"1","m":0.2,"f":0.2125},{"a":67,"s":"1","m":0.196,"f":0.2125},{"a":69,"s":"1","m":0.198,"f":0.2125},{"a":71,"s":"1","m":0.197,"f":0.2125},{"a":73,"s":"1","m":0.199,"f":0.2125},{"a":75,"s":"1","m":0.196,"f":0.2125},{"a":77,"s":"1","m":0.198,"f":0.2125},{"a":79,"s":"1","m":0.197,"f":0.2125},{"a":81,"s":"1","m":0.199,"f":0.2125},{"a":83,"s":"1","m":0.197,"f":0.2125},{"a":85,"s":"1","f":0.2125},

{"a":-85,"s":"0 (75 keV)","m":0.203},{"a":-83,"s":"0 (75 keV)","m":0.206},{"a":-81,"s":"0 (75 keV)","m":0.208},{"a":-79,"s":"0 (75 keV)","m":0.207},{"a":-77,"s":"0 (75 keV)","m":0.209},{"a":-75,"s":"0 (75 keV)","m":0.208},{"a":-73,"s":"0 (75 keV)","m":0.21},{"a":-71,"s":"0 (75 keV)","m":0.209},{"a":-69,"s":"0 (75 keV)","m":0.21},{"a":-67,"s":"0 (75 keV)","m":0.208},{"a":-65,"s":"0 (75 keV)","m":0.21},{"a":-63,"s":"0 (75 keV)","m":0.209},{"a":-61,"s":"0 (75 keV)","m":0.21},{"a":-59,"s":"0 (75 keV)","m":0.209},{"a":-57,"s":"0 (75 keV)","m":0.208},{"a":-55,"s":"0 (75 keV)","m":0.21},{"a":-53,"s":"0 (75 keV)","m":0.209},{"a":-51,"s":"0 (75 keV)","m":0.208},{"a":-49,"s":"0 (75 keV)","m":0.209},{"a":-47,"s":"0 (75 keV)","m":0.21},{"a":-45,"s":"0 (75 keV)","m":0.208},{"a":-43,"s":"0 (75 keV)","m":0.209},{"a":-41,"s":"0 (75 keV)","m":0.207},{"a":-39,"s":"0 (75 keV)","m":0.209},{"a":-37,"s":"0 (75 keV)","m":0.208},{"a":-35,"s":"0 (75 keV)","m":0.207},{"a":-33,"s":"0 (75 keV)","m":0.209},{"a":-31,"s":"0 (75 keV)","m":0.208},{"a":-29,"s":"0 (75 keV)","m":0.207},{"a":-27,"s":"0 (75 keV)","m":0.209},{"a":-25,"s":"0 (75 keV)","m":0.208},{"a":-23,"s":"0 (75 keV)","m":0.209},{"a":-21,"s":"0 (75 keV)","m":0.208},{"a":-19,"s":"0 (75 keV)","m":0.209},{"a":-17,"s":"0 (75 keV)","m":0.207},{"a":-15,"s":"0 (75 keV)","m":0.208},{"a":-13,"s":"0 (75 keV)","m":0.207},{"a":-11,"s":"0 (75 keV)","m":0.208},{"a":-9,"s":"0 (75 keV)","m":0.206},{"a":-7,"s":"0 (75 keV)","m":0.207},{"a":-5,"s":"0 (75 keV)","m":0.205},{"a":-3,"s":"0 (75 keV)","m":0.206},{"a":-1,"s":"0 (75 keV)","m":0.204},{"a":1,"s":"0 (75 keV)","m":0.205},{"a":3,"s":"0 (75 keV)","m":0.204},{"a":5,"s":"0 (75 keV)","m":0.203},{"a":7,"s":"0 (75 keV)","m":0.204},{"a":9,"s":"0 (75 keV)","m":0.203},{"a":11,"s":"0 (75 keV)","m":0.204},{"a":13,"s":"0 (75 keV)","m":0.205},{"a":15,"s":"0 (75 keV)","m":0.204},{"a":17,"s":"0 (75 keV)","m":0.205},{"a":19,"s":"0 (75 keV)","m":0.204},{"a":21,"s":"0 (75 keV)","m":0.205},{"a":23,"s":"0 (75 keV)","m":0.204},{"a":25,"s":"0 (75 keV)","m":0.205},{"a":27,"s":"0 (75 keV)","m":0.206},{"a":29,"s":"0 (75 keV)","m":0.205},{"a":31,"s":"0 (75 keV)","m":0.206},{"a":33,"s":"0 (75 keV)","m":0.205},{"a":35,"s":"0 (75 keV)","m":0.206},{"a":37,"s":"0 (75 keV)","m":0.205},{"a":39,"s":"0 (75 keV)","m":0.206},{"a":41,"s":"0 (75 keV)","m":0.207},{"a":43,"s":"0 (75 keV)","m":0.206},{"a":45,"s":"0 (75 keV)","m":0.207},{"a":47,"s":"0 (75 keV)","m":0.206},{"a":49,"s":"0 (75 keV)","m":0.207},{"a":51,"s":"0 (75 keV)","m":0.206},{"a":53,"s":"0 (75 keV)","m":0.207},{"a":55,"s":"0 (75 keV)","m":0.206},{"a":57,"s":"0 (75 keV)","m":0.207},{"a":59,"s":"0 (75 keV)","m":0.207},{"a":61,"s":"0 (75 keV)","m":0.206},{"a":63,"s":"0 (75 keV)","m":0.207},{"a":65,"s":"0 (75 keV)","m":0.208},{"a":67,"s":"0 (75 keV)","m":0.207},{"a":69,"s":"0 (75 keV)","m":0.208},{"a":71,"s":"0 (75 keV)","m":0.207},{"a":73,"s":"0 (75 keV)","m":0.208},{"a":75,"s":"0 (75 keV)","m":0.207},{"a":77,"s":"0 (75 keV)","m":0.208},{"a":79,"s":"0 (75 keV)","m":0.208},{"a":81,"s":"0 (75 keV)","m":0.207},{"a":83,"s":"0 (75 keV)","m":0.208},

{"a":-85,"s":"0 (100 keV)","m":0.16},{"a":-83,"s":"0 (100 keV)","m":0.1605},{"a":-81,"s":"0 (100 keV)","m":0.161},{"a":-79,"s":"0 (100 keV)","m":0.162},{"a":-77,"s":"0 (100 keV)","m":0.163},{"a":-75,"s":"0 (100 keV)","m":0.1645},{"a":-73,"s":"0 (100 keV)","m":0.165},{"a":-71,"s":"0 (100 keV)","m":0.166},{"a":-69,"s":"0 (100 keV)","m":0.167},{"a":-67,"s":"0 (100 keV)","m":0.168},{"a":-65,"s":"0 (100 keV)","m":0.169},{"a":-63,"s":"0 (100 keV)","m":0.17},{"a":-61,"s":"0 (100 keV)","m":0.171},{"a":-59,"s":"0 (100 keV)","m":0.172},{"a":-57,"s":"0 (100 keV)","m":0.1725},{"a":-55,"s":"0 (100 keV)","m":0.173},{"a":-53,"s":"0 (100 keV)","m":0.174},{"a":-51,"s":"0 (100 keV)","m":0.1745},{"a":-49,"s":"0 (100 keV)","m":0.175},{"a":-47,"s":"0 (100 keV)","m":0.176},{"a":-45,"s":"0 (100 keV)","m":0.1765},{"a":-43,"s":"0 (100 keV)","m":0.176},{"a":-41,"s":"0 (100 keV)","m":0.177},{"a":-39,"s":"0 (100 keV)","m":0.1765},{"a":-37,"s":"0 (100 keV)","m":0.177},{"a":-35,"s":"0 (100 keV)","m":0.1775},{"a":-33,"s":"0 (100 keV)","m":0.177},{"a":-31,"s":"0 (100 keV)","m":0.178},{"a":-29,"s":"0 (100 keV)","m":0.177},{"a":-27,"s":"0 (100 keV)","m":0.178},{"a":-25,"s":"0 (100 keV)","m":0.1785},{"a":-23,"s":"0 (100 keV)","m":0.179},{"a":-21,"s":"0 (100 keV)","m":0.178},{"a":-19,"s":"0 (100 keV)","m":0.179},{"a":-17,"s":"0 (100 keV)","m":0.1795},{"a":-15,"s":"0 (100 keV)","m":0.179},{"a":-13,"s":"0 (100 keV)","m":0.18},{"a":-11,"s":"0 (100 keV)","m":0.1795},{"a":-9,"s":"0 (100 keV)","m":0.18},{"a":-7,"s":"0 (100 keV)","m":0.1795},{"a":-5,"s":"0 (100 keV)","m":0.18},{"a":-3,"s":"0 (100 keV)","m":0.1795},{"a":-1,"s":"0 (100 keV)","m":0.179},{"a":1,"s":"0 (100 keV)","m":0.179},{"a":3,"s":"0 (100 keV)","m":0.1785},{"a":5,"s":"0 (100 keV)","m":0.178},{"a":7,"s":"0 (100 keV)","m":0.177},{"a":9,"s":"0 (100 keV)","m":0.1765},{"a":11,"s":"0 (100 keV)","m":0.176},{"a":13,"s":"0 (100 keV)","m":0.1755},{"a":15,"s":"0 (100 keV)","m":0.175},{"a":17,"s":"0 (100 keV)","m":0.1745},{"a":19,"s":"0 (100 keV)","m":0.1735},{"a":21,"s":"0 (100 keV)","m":0.173},{"a":23,"s":"0 (100 keV)","m":0.172},{"a":25,"s":"0 (100 keV)","m":0.1715},{"a":27,"s":"0 (100 keV)","m":0.171},{"a":29,"s":"0 (100 keV)","m":0.1705},{"a":31,"s":"0 (100 keV)","m":0.17},{"a":33,"s":"0 (100 keV)","m":0.17},{"a":35,"s":"0 (100 keV)","m":0.1695},{"a":37,"s":"0 (100 keV)","m":0.169},{"a":39,"s":"0 (100 keV)","m":0.1685},{"a":41,"s":"0 (100 keV)","m":0.168},{"a":43,"s":"0 (100 keV)","m":0.168},{"a":45,"s":"0 (100 keV)","m":0.1675},{"a":47,"s":"0 (100 keV)","m":0.167},{"a":49,"s":"0 (100 keV)","m":0.167},{"a":51,"s":"0 (100 keV)","m":0.1665},{"a":53,"s":"0 (100 keV)","m":0.166},{"a":55,"s":"0 (100 keV)","m":0.166},{"a":57,"s":"0 (100 keV)","m":0.1655},{"a":59,"s":"0 (100 keV)","m":0.165},{"a":61,"s":"0 (100 keV)","m":0.165},{"a":63,"s":"0 (100 keV)","m":0.1645},{"a":65,"s":"0 (100 keV)","m":0.1645},{"a":67,"s":"0 (100 keV)","m":0.164},{"a":69,"s":"0 (100 keV)","m":0.164},{"a":71,"s":"0 (100 keV)","m":0.164},{"a":73,"s":"0 (100 keV)","m":0.164},{"a":75,"s":"0 (100 keV)","m":0.1638},{"a":77,"s":"0 (100 keV)","m":0.164},{"a":79,"s":"0 (100 keV)","m":0.1645},{"a":81,"s":"0 (100 keV)","m":0.1645},{"a":83,"s":"0 (100 keV)","m":0.165}
]
},
"layer": [
{
  "data": {"name": "ref"},
  "mark": {"type": "rule", "color": "#8a8a8a", "strokeWidth": 2},
  "encoding": {
    "y": {"field": "m", "type": "quantitative", "scale": {"type": "log", "domain": [0.1, 2]}, "title": "effective μm (cm² g⁻¹)"}
  }
},
{
  "data": {"name": "mu"},
  "transform": [{"filter": {"field": "s", "oneOf": ["0","0.1","0.2","0.3","0.4","0.5","0.7","1"]}}],
  "mark": {"type": "point", "shape": "M-1,0L1,0M0,-1L0,1", "filled": false, "size": 196, "strokeWidth": 1.5, "opacity": 1},
  "encoding": {
    "x": {"field": "a", "type": "quantitative", "title": "rotation angle for 2 mm Al filter (°)", "scale": {"domain": [-90, 90]},
      "axis": {"values": [-90,-75,-60,-45,-30,-15,0,15,30,45,60,75,90], "labelExpr": "datum.value % 30 == 0 ? datum.label : ''", "tickSize": 15, "labelPadding": 7, "titleX": 204, "titleY": 55, "titleBaseline": "middle", "titleAlign": "center", "titleAnchor": null}},
    "y": {"field": "m", "type": "quantitative", "scale": {"type": "log", "domain": [0.1, 2]}, "title": "effective μm (cm² g⁻¹)",
      "axis": {"values": [0.1,0.2,0.3,0.4,0.5,0.6,0.7,0.8,0.9,1,2], "format": "~g", "labelExpr": "indexof([0.1,0.2,0.5,1,2], datum.value) >= 0 ? datum.label : ''", "tickSize": {"condition": {"test": "indexof([0.1,0.2,0.5,1,2], datum.value) >= 0", "value": 14}, "value": 8}, "labelPadding": 2, "titleFontSize": 16.5, "titleX": -50, "titleY": 208, "titleBaseline": "middle", "titleAlign": "center", "titleAngle": -90}},
    "color": {"field": "s", "type": "nominal", "sort": null,
      "scale": {"domain": ["0","0.1","0.2","0.3","0.4","0.5","0.7","1"], "range": ["#000000","#3a5ba8","#e8262b","#7a449b","#6bbb45","#f26b25","#5cc3d8","#b84ea5"]},
      "legend": {"title": ["upstream Cu","(mm)","(25 keV)"], "orient": "none", "legendX": 451, "legendY": 97, "titleAlign": "center", "titleAnchor": "end", "titleFontSize": 15.7, "titleFontWeight": "normal", "titleLineHeight": 17.5, "titleColor": "#000", "titlePadding": 2, "labelFontSize": 15.5, "labelOffset": 18, "symbolType": "M-1,0L1,0M0,-1L0,1", "symbolSize": 200, "symbolStrokeWidth": 1.6, "rowPadding": 0,
        "encode": {"labels": {"update": {"fill": {"scale": "color", "field": "value"}}}}}}
  }
},
{
  "data": {"name": "mu"},
  "transform": [{"filter": {"field": "s", "oneOf": ["0","0.1","0.2","0.3","0.4","0.5","0.7","1"]}}],
  "mark": {"type": "line", "strokeWidth": 1.5},
  "encoding": {
    "x": {"field": "a", "type": "quantitative", "scale": {"domain": [-90, 90]}, "title": "rotation angle for 2 mm Al filter (°)"},
    "y": {"field": "f", "type": "quantitative", "scale": {"type": "log", "domain": [0.1, 2]}, "title": "effective μm (cm² g⁻¹)"},
    "color": {"field": "s", "type": "nominal", "sort": null, "legend": null}
  }
},
{
  "data": {"name": "mu"},
  "transform": [{"filter": {"field": "s", "oneOf": ["0 (75 keV)","0 (100 keV)"]}}],
  "mark": {"type": "point", "filled": false, "color": "#000", "size": 36, "strokeWidth": 1.8, "opacity": 1},
  "encoding": {
    "x": {"field": "a", "type": "quantitative", "scale": {"domain": [-90, 90]}, "title": "rotation angle for 2 mm Al filter (°)"},
    "y": {"field": "m", "type": "quantitative", "scale": {"type": "log", "domain": [0.1, 2]}, "title": "effective μm (cm² g⁻¹)"},
    "shape": {"field": "s", "type": "nominal", "sort": null,
      "scale": {"domain": ["0 (75 keV)","0 (100 keV)"], "range": ["diamond","square"]},
      "legend": {"title": null, "orient": "none", "legendX": 454, "legendY": 342, "labelFontSize": 15.5, "labelColor": "#000", "labelOffset": 11, "symbolStrokeColor": "#000", "symbolStrokeWidth": 1.8, "symbolSize": 40, "rowPadding": 5}}
  }
}
]
}
